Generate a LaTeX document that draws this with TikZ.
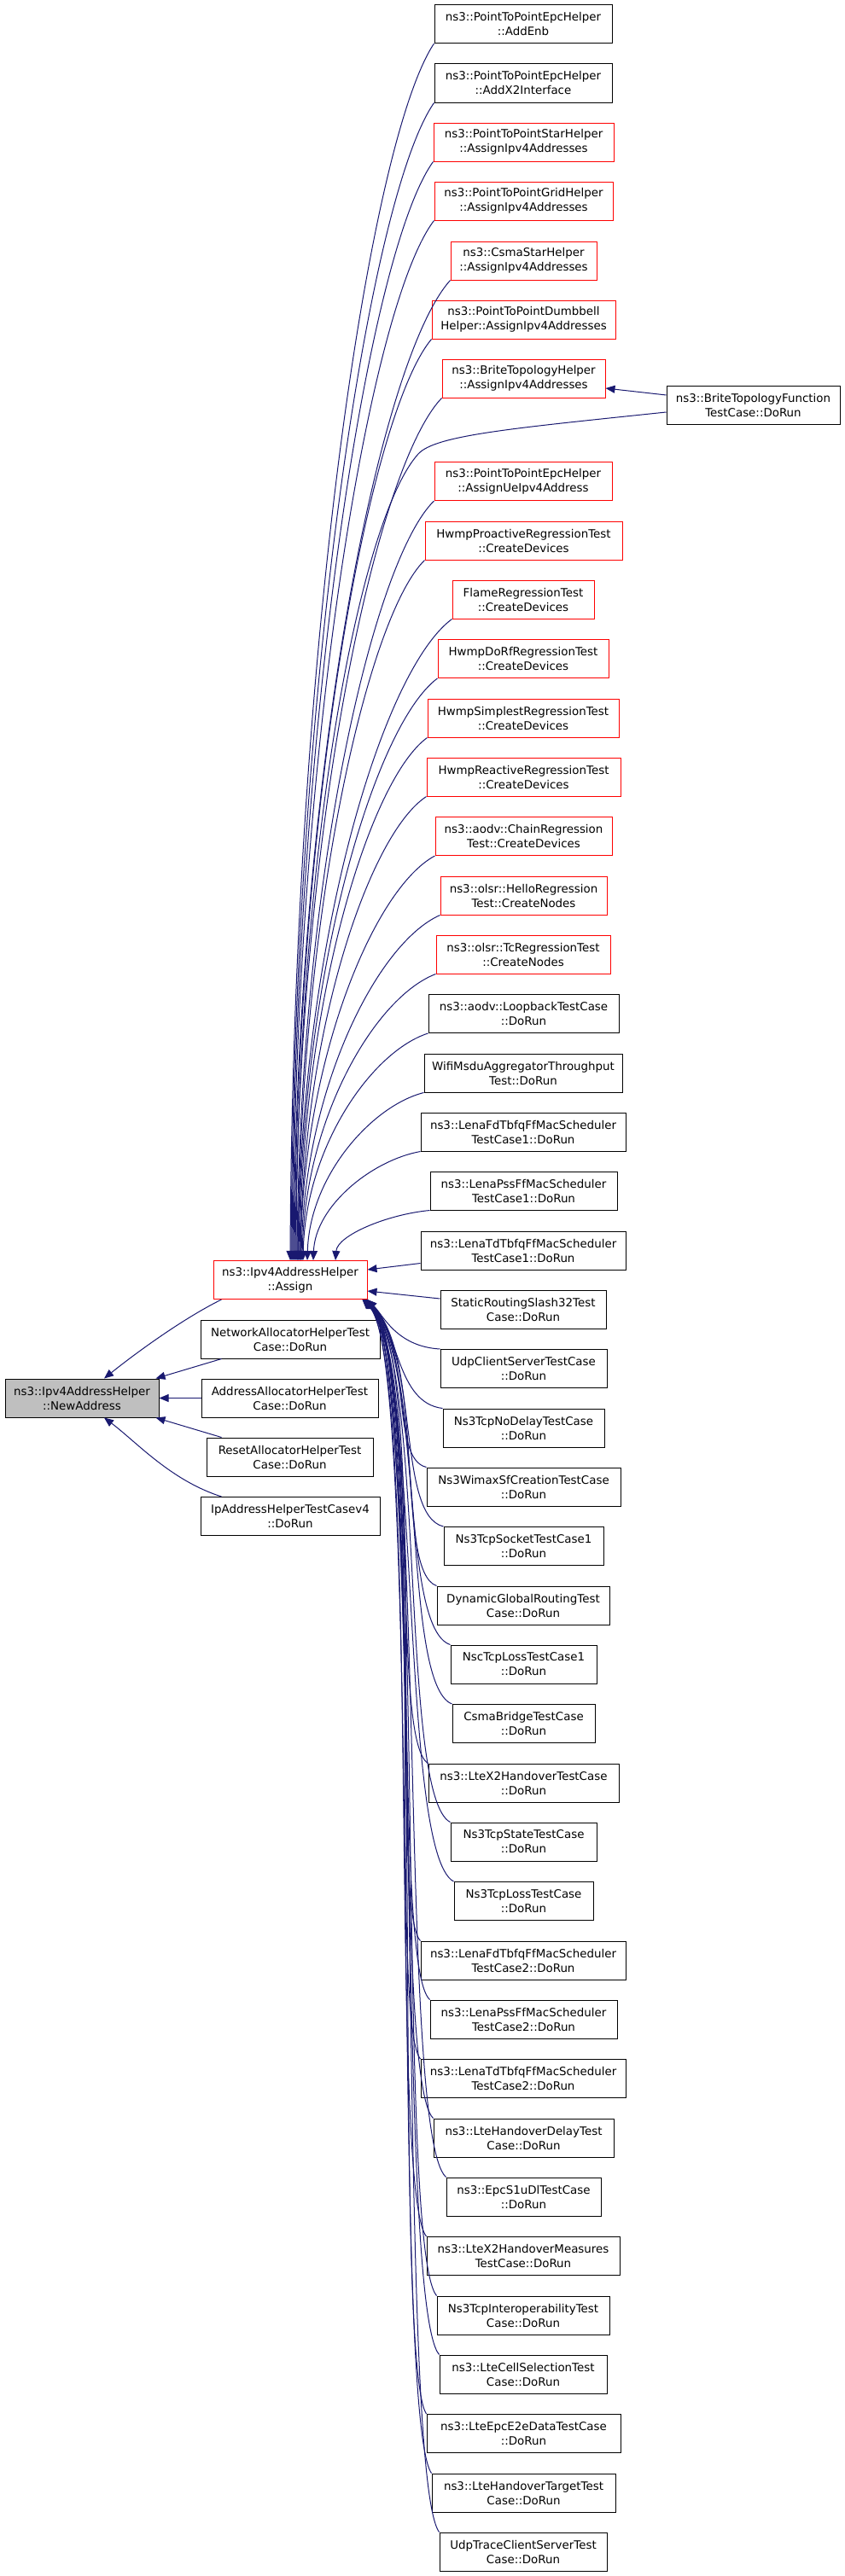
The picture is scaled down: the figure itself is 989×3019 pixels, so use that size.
\documentclass[tikz,border=0pt]{standalone}
\usepackage{fontspec}
\setmainfont{DejaVu Sans}
\usetikzlibrary{calc,arrows.meta}

\definecolor{edgeblue}{RGB}{25,25,112}
\definecolor{curgray}{RGB}{191,191,191}
\newcommand{\graphfont}{\fontsize{13.4}{17}\selectfont}

\tikzset{
  fnbox/.style={draw=black, line width=1pt, minimum height=45pt, inner sep=0pt, align=center, font=\graphfont},
  fnred/.style={fnbox, draw=red},
  fncur/.style={fnbox, fill=curgray},
  call/.style={draw=edgeblue, line width=1pt, -{Triangle[length=11pt,width=9pt]}, edgeblue},
}

% caller above or beside Assign: leaves the lower left corner, drops onto the top
\newcommand{\upcall}[2]{%
  \draw[call] let \p1=(#1.south west), \p2=($(asg.north)+(#2,0)$) in
    (\p1) .. controls (\x1+0.45*\x2-0.45*\x1, \y1+0.08*\y2-0.08*\y1)
             and (\x2+0.02*\x1-0.02*\x2, \y2+0.5*\y1-0.5*\y2) .. (\p2);}
% caller below Assign: leaves the upper left corner, climbs to the lower right corner
\newcommand{\downcall}[3]{%
  \draw[call] let \p1=(#1.north west), \p2=($(asg.south east)+(#2,0)$) in
    (\p1) .. controls (\x1+0.6*\x2-0.6*\x1, \y1+0.05*\y2-0.05*\y1)
             and (\x2+#3pt, \y2-#3pt) .. (\p2);}

\begin{document}
\begin{tikzpicture}[x=1pt,y=-1pt]
  \useasboundingbox (0,0) rectangle (989,3019);

  % left part
  \node[fncur, minimum width=180pt] (newaddr) at (96,1638.5) {ns3::Ipv4AddressHelper\\::NewAddress};
  \node[fnred, minimum width=180pt] (asg) at (340,1500) {ns3::Ipv4AddressHelper\\::Assign};
  \node[fnbox, minimum width=210pt] (netalloc) at (340,1569.5) {NetworkAllocatorHelperTest\\Case::DoRun};
  \node[fnbox, minimum width=207pt] (addralloc) at (339.5,1638.5) {AddressAllocatorHelperTest\\Case::DoRun};
  \node[fnbox, minimum width=195pt] (resetalloc) at (339.5,1707.5) {ResetAllocatorHelperTest\\Case::DoRun};
  \node[fnbox, minimum width=210pt] (ipaddr) at (340,1777) {IpAddressHelperTestCasev4\\::DoRun};

  % callers of Assign
  \node[fnbox, minimum width=208pt] (addenb) at (613,28) {ns3::PointToPointEpcHelper\\::AddEnb};
  \node[fnbox, minimum width=208pt] (addx2) at (613,97.5) {ns3::PointToPointEpcHelper\\::AddX2Interface};
  \node[fnred, minimum width=211pt] (p2pstar) at (613.5,166.5) {ns3::PointToPointStarHelper\\::AssignIpv4Addresses};
  \node[fnred, minimum width=209pt] (p2pgrid) at (613.5,235.5) {ns3::PointToPointGridHelper\\::AssignIpv4Addresses};
  \node[fnred, minimum width=171pt] (csmastar) at (613.5,305.5) {ns3::CsmaStarHelper\\::AssignIpv4Addresses};
  \node[fnred, minimum width=215pt] (dumbbell) at (613.5,374.5) {ns3::PointToPointDumbbell\\Helper::AssignIpv4Addresses};
  \node[fnred, minimum width=191pt] (brite) at (613.5,443.5) {ns3::BriteTopologyHelper\\::AssignIpv4Addresses};
  \node[fnbox, minimum width=203pt] (britefn) at (882.5,474.5) {ns3::BriteTopologyFunction\\TestCase::DoRun};
  \node[fnred, minimum width=208pt] (assignue) at (613,564) {ns3::PointToPointEpcHelper\\::AssignUeIpv4Address};
  \node[fnred, minimum width=231pt] (hwmppro) at (613.5,633.5) {HwmpProactiveRegressionTest\\::CreateDevices};
  \node[fnred, minimum width=166pt] (flame) at (613,702.5) {FlameRegressionTest\\::CreateDevices};
  \node[fnred, minimum width=200pt] (hwmpdorf) at (613,772) {HwmpDoRfRegressionTest\\::CreateDevices};
  \node[fnred, minimum width=224pt] (hwmpsimp) at (613,841.5) {HwmpSimplestRegressionTest\\::CreateDevices};
  \node[fnred, minimum width=227pt] (hwmpreac) at (613.5,910.5) {HwmpReactiveRegressionTest\\::CreateDevices};
  \node[fnred, minimum width=207pt] (aodvchain) at (613.5,980) {ns3::aodv::ChainRegression\\Test::CreateDevices};
  \node[fnred, minimum width=195pt] (olsrhello) at (613.5,1049.5) {ns3::olsr::HelloRegression\\Test::CreateNodes};
  \node[fnred, minimum width=204pt] (olsrtc) at (613,1118.5) {ns3::olsr::TcRegressionTest\\::CreateNodes};
  \node[fnbox, minimum width=223pt] (aodvloop) at (613.5,1188) {ns3::aodv::LoopbackTestCase\\::DoRun};
  \node[fnbox, minimum width=232pt] (wifimsdu) at (613,1257.5) {WifiMsduAggregatorThroughput\\Test::DoRun};
  \node[fnbox, minimum width=240pt] (lenafd1) at (613,1326.5) {ns3::LenaFdTbfqFfMacScheduler\\TestCase1::DoRun};
  \node[fnbox, minimum width=219pt] (lenapss1) at (613.5,1395.5) {ns3::LenaPssFfMacScheduler\\TestCase1::DoRun};
  \node[fnbox, minimum width=240pt] (lenatd1) at (613,1465.5) {ns3::LenaTdTbfqFfMacScheduler\\TestCase1::DoRun};
  \node[fnbox, minimum width=194pt] (slash32) at (613,1534.5) {StaticRoutingSlash32Test\\Case::DoRun};
  \node[fnbox, minimum width=195pt] (udpcs) at (613.5,1604) {UdpClientServerTestCase\\::DoRun};
  \node[fnbox, minimum width=189pt] (tcpnodelay) at (613.5,1673.5) {Ns3TcpNoDelayTestCase\\::DoRun};
  \node[fnbox, minimum width=227pt] (wimaxsf) at (613.5,1742.5) {Ns3WimaxSfCreationTestCase\\::DoRun};
  \node[fnbox, minimum width=187pt] (tcpsocket) at (613.5,1812) {Ns3TcpSocketTestCase1\\::DoRun};
  \node[fnbox, minimum width=202pt] (dynglobal) at (613,1881.5) {DynamicGlobalRoutingTest\\Case::DoRun};
  \node[fnbox, minimum width=171pt] (nsctcploss) at (613.5,1950.5) {NscTcpLossTestCase1\\::DoRun};
  \node[fnbox, minimum width=167pt] (csmabridge) at (613.5,2020) {CsmaBridgeTestCase\\::DoRun};
  \node[fnbox, minimum width=223pt] (ltex2ho) at (613.5,2089.5) {ns3::LteX2HandoverTestCase\\::DoRun};
  \node[fnbox, minimum width=171pt] (tcpstate) at (613.5,2158.5) {Ns3TcpStateTestCase\\::DoRun};
  \node[fnbox, minimum width=163pt] (tcploss) at (613.5,2228) {Ns3TcpLossTestCase\\::DoRun};
  \node[fnbox, minimum width=240pt] (lenafd2) at (613,2297.5) {ns3::LenaFdTbfqFfMacScheduler\\TestCase2::DoRun};
  \node[fnbox, minimum width=219pt] (lenapss2) at (613.5,2366.5) {ns3::LenaPssFfMacScheduler\\TestCase2::DoRun};
  \node[fnbox, minimum width=240pt] (lenatd2) at (613,2436) {ns3::LenaTdTbfqFfMacScheduler\\TestCase2::DoRun};
  \node[fnbox, minimum width=211pt] (hodelay) at (613.5,2505.5) {ns3::LteHandoverDelayTest\\Case::DoRun};
  \node[fnbox, minimum width=181pt] (epcs1u) at (613.5,2574.5) {ns3::EpcS1uDlTestCase\\::DoRun};
  \node[fnbox, minimum width=226pt] (ltex2meas) at (613,2644) {ns3::LteX2HandoverMeasures\\TestCase::DoRun};
  \node[fnbox, minimum width=202pt] (tcpinterop) at (613,2713.5) {Ns3TcpInteroperabilityTest\\Case::DoRun};
  \node[fnbox, minimum width=196pt] (cellsel) at (613,2782.5) {ns3::LteCellSelectionTest\\Case::DoRun};
  \node[fnbox, minimum width=227pt] (epce2e) at (613.5,2852) {ns3::LteEpcE2eDataTestCase\\::DoRun};
  \node[fnbox, minimum width=215pt] (hotarget) at (613.5,2921.5) {ns3::LteHandoverTargetTest\\Case::DoRun};
  \node[fnbox, minimum width=196pt] (udptrace) at (613,2990.5) {UdpTraceClientServerTest\\Case::DoRun};

  % edges into NewAddress
  \draw[call] ($(asg.south west)+(10,0)$) .. controls (215,1545) and (160,1585) .. ($(newaddr.north)+(26,0)$);
  \draw[call] ($(netalloc.south west)+(25,0)$) -- ($(newaddr.north east)+(-4,0)$);
  \draw[call] (addralloc.west) -- (newaddr.east);
  \draw[call] ($(resetalloc.north west)+(18,0)$) -- ($(newaddr.south east)+(-4,0)$);
  \draw[call] ($(ipaddr.north west)+(25,0)$) .. controls (200,1735) and (160,1690) .. ($(newaddr.south)+(26,0)$);

  % edges into Assign from above
  \upcall{addenb}{0}
  \upcall{addx2}{1}
  \upcall{p2pstar}{2}
  \upcall{p2pgrid}{3}
  \upcall{csmastar}{4}
  \upcall{dumbbell}{5}
  \upcall{brite}{6}
  \upcall{assignue}{8}
  \upcall{hwmppro}{9}
  \upcall{flame}{9}
  \upcall{hwmpdorf}{10}
  \upcall{hwmpsimp}{11}
  \upcall{hwmpreac}{12}
  \upcall{aodvchain}{12}
  \upcall{olsrhello}{13}
  \upcall{olsrtc}{14}
  \upcall{aodvloop}{15}
  \upcall{wifimsdu}{20}
  \upcall{lenafd1}{27}
  \upcall{lenapss1}{53}
  \draw[call] ($(britefn.west)+(0,8.5)$) .. controls (600,502) and (510,510) .. (490,532)
    .. controls (420,610) and (348,1000) .. ($(asg.north)+(7,0)$);
  \draw[call] ($(britefn.west)+(0,-11.5)$) -- ($(brite.east)+(0,11.5)$);

  % edges into Assign from the side
  \draw[call] ($(lenatd1.west)+(0,15)$) -- ($(asg.east)+(0,-12)$);
  \draw[call] ($(slash32.west)+(0,-12.5)$) -- ($(asg.east)+(0,13)$);

  % edges into Assign from below
  \downcall{udpcs}{0}{18}
  \downcall{tcpnodelay}{-1}{38}
  \downcall{wimaxsf}{-2}{55}
  \downcall{tcpsocket}{-3}{65}
  \downcall{dynglobal}{-1}{70}
  \downcall{nsctcploss}{-4}{70}
  \downcall{csmabridge}{-2}{72}
  \downcall{ltex2ho}{-5}{70}
  \downcall{tcpstate}{-3}{72}
  \downcall{tcploss}{-6}{70}
  \downcall{lenafd2}{-1}{74}
  \downcall{lenapss2}{-4}{70}
  \downcall{lenatd2}{-2}{72}
  \downcall{hodelay}{-5}{70}
  \downcall{epcs1u}{-3}{74}
  \downcall{ltex2meas}{-6}{70}
  \downcall{tcpinterop}{-1}{72}
  \downcall{cellsel}{-4}{70}
  \downcall{epce2e}{-2}{74}
  \downcall{hotarget}{-5}{70}
  \downcall{udptrace}{-3}{72}
\end{tikzpicture}
\end{document}
